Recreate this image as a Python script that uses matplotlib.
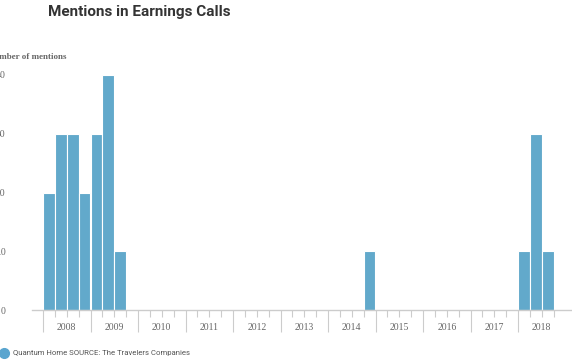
#!/usr/bin/env python3
import matplotlib
matplotlib.use("Agg")
import matplotlib.pyplot as plt
from matplotlib.lines import Line2D

# Data: mentions per quarter (quarters not listed are zero)
quarters = ["2008 Q1", "2008 Q2", "2008 Q3", "2008 Q4",
            "2009 Q1", "2009 Q2", "2009 Q3",
            "2014 Q4",
            "2018 Q1", "2018 Q2", "2018 Q3"]
mentions = [20, 30, 30, 20, 30, 40, 10, 10, 10, 30, 10]
years = list(range(2008, 2019))
y_ticks = [0, 10, 20, 30, 40]

BAR_COLOR = "#62a9cb"
GRID_GRAY = "#cccccc"
TEXT_GRAY = "#666666"

W, H = 572, 364


def quarter_start(label):
    year, q = label.split(" Q")
    return int(year) + (int(q) - 1) / 4


def main():
    fig = plt.figure(figsize=(W / 100, H / 100), dpi=100)
    # plot area in pixels: x 32..572, y 70..310
    ax = fig.add_axes([32 / W, (H - 310) / H, (W - 32) / W, 240 / H])

    x = [quarter_start(q) for q in quarters]
    ax.bar(x, mentions, width=0.25, align="edge", color=BAR_COLOR,
           edgecolor="white", linewidth=0.8, zorder=2)

    px_per_year = 47.5
    ax.set_xlim(2008 - 11 / px_per_year, 2008 + (W - 43) / px_per_year)
    ax.set_ylim(0, 240 / 5.875)

    for side in ["top", "right", "left"]:
        ax.spines[side].set_visible(False)
    ax.spines["bottom"].set_color(GRID_GRAY)
    ax.spines["bottom"].set_linewidth(1)

    # year ticks (long) and quarter ticks (short)
    ax.set_xticks(years)
    ax.set_xticklabels([])
    ax.set_xticks([y + q / 4 for y in years for q in range(4)], minor=True)
    ax.tick_params(axis="x", which="major", length=16, width=0.8, color=GRID_GRAY)
    ax.tick_params(axis="x", which="minor", length=5, width=0.8, color=GRID_GRAY)

    for yr in years:
        ax.text(yr + 0.5, -17 / 240, str(yr), transform=ax.get_xaxis_transform(),
                ha="center", va="center", fontsize=7, color=TEXT_GRAY,
                family="Liberation Serif")

    ax.set_yticks(y_ticks)
    ax.set_yticklabels([str(v) for v in y_ticks], family="Liberation Serif",
                       fontsize=7, color=TEXT_GRAY)
    ax.tick_params(axis="y", length=0, pad=19)

    # axis title, partially cut off at the left edge like the original
    fig.text(66 / W, 1 - 57 / H, "Number of mentions", ha="right", va="center",
             fontsize=6.5, fontweight="bold", color=TEXT_GRAY,
             family="Liberation Serif")

    fig.text(48 / W, 1 - 12 / H, "Mentions in Earnings Calls", ha="left",
             va="center", fontsize=11, fontweight="bold", color="#333333",
             family="Roboto")

    handle = Line2D([], [], marker="o", linestyle="", markersize=7,
                    color="#5aa5cf")
    fig.legend([handle], ["Quantum Home SOURCE: The Travelers Companies"],
               loc="center left", bbox_to_anchor=(-4 / W, 1 - 353 / H),
               frameon=False, handletextpad=0.2, borderpad=0, borderaxespad=0,
               prop={"family": "Roboto", "size": 5.6}, labelcolor="#555555")

    fig.savefig("out.png", dpi=100)
    plt.close(fig)


if __name__ == "__main__":
    main()
